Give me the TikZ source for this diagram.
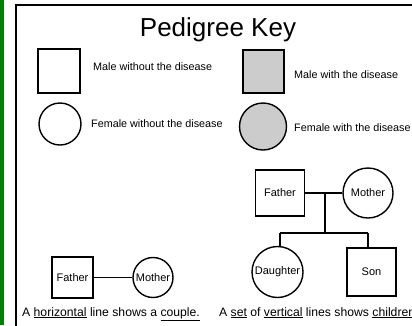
\documentclass[tikz,border=0pt]{standalone}
\usepackage{fontspec}
\setmainfont{Liberation Sans}
\usetikzlibrary{positioning}
\definecolor{pagegreen}{RGB}{0,128,0}
\definecolor{affected}{RGB}{204,204,204}

\begin{document}
\begin{tikzpicture}[x=1pt, y=-1pt,
    male/.style={rectangle, draw, line width=1.4pt, inner sep=0pt, minimum width=42pt, minimum height=44pt, font=\fontsize{11}{13}\selectfont},
    female/.style={circle, draw, line width=1.4pt, inner sep=0pt, minimum size=42pt, font=\fontsize{11}{13}\selectfont},
    keytext/.style={anchor=west, inner sep=0pt, font=\fontsize{10.8}{13}\selectfont},
    caption/.style={anchor=base west, inner sep=0pt, font=\fontsize{12.2}{14}\selectfont},
    link/.style={line width=1.4pt}
]
\useasboundingbox (0,0) rectangle (412,325);

% Page edge and frame
\fill[pagegreen] (0,0) rectangle (4,325);
\draw[line width=1.6pt] (16,340) -- (16,5) -- (430,5);

% Title
\node[anchor=base, inner sep=0pt, font=\fontsize{26}{30}\selectfont] (title) at (218,36) {Pedigree Key};

% Key symbols
\node[male] (maleok) at (59,71) {};
\node[male, fill=affected, minimum width=41pt, minimum height=43pt] (maledis) at (263.5,71.5) {};
\node[female] (femok) at (60,124) {};
\node[female, fill=affected, minimum size=47pt] (femdis) at (263,126.5) {};

\node[keytext] (maleoktxt) at (93,67) {Male without the disease};
\node[keytext] (maledistxt) at (294,75) {Male with the disease};
\node[keytext] (femoktxt) at (91,124) {Female without the disease};
\node[keytext] (femdistxt) at (294,128) {Female with the disease};

% Couple
\node[male, minimum width=41pt, minimum height=41pt] (lfather) at (72.5,277.5) {Father};
\node[female, minimum size=40pt] (lmother) at (153,277.5) {Mother};
\draw[link] (lfather) -- (lmother);

% Parents with children
\node[male, minimum width=49pt, minimum height=46pt] (rfather) at (280,193) {Father};
\node[female, minimum size=50pt] (rmother) at (368,193) {Mother};
\node[female, minimum size=51pt] (daughter) at (277.5,272) {Daughter};
\node[male, minimum width=49pt, minimum height=48pt] (son) at (371.5,272) {Son};

\coordinate (rmid) at (325,193);
\coordinate (dbar) at (280,233);
\coordinate (sbar) at (368,233);
\draw[link] (rfather) -- (rmother);
\draw[link] (rmid) -- (rmid |- dbar);
\draw[link] (dbar) -- (sbar);
\draw[link] (dbar) -- (dbar |- daughter.north);
\draw[link] (sbar) -- (sbar |- son.north);

% Captions
\node[caption] (capcouple) at (22,316) {A \underline{horizontal} line shows a \underline{couple.}};
\node[caption] (capkids) at (219,316) {A \underline{set} of \underline{vertical} lines shows \underline{children}};
\end{tikzpicture}
\end{document}
